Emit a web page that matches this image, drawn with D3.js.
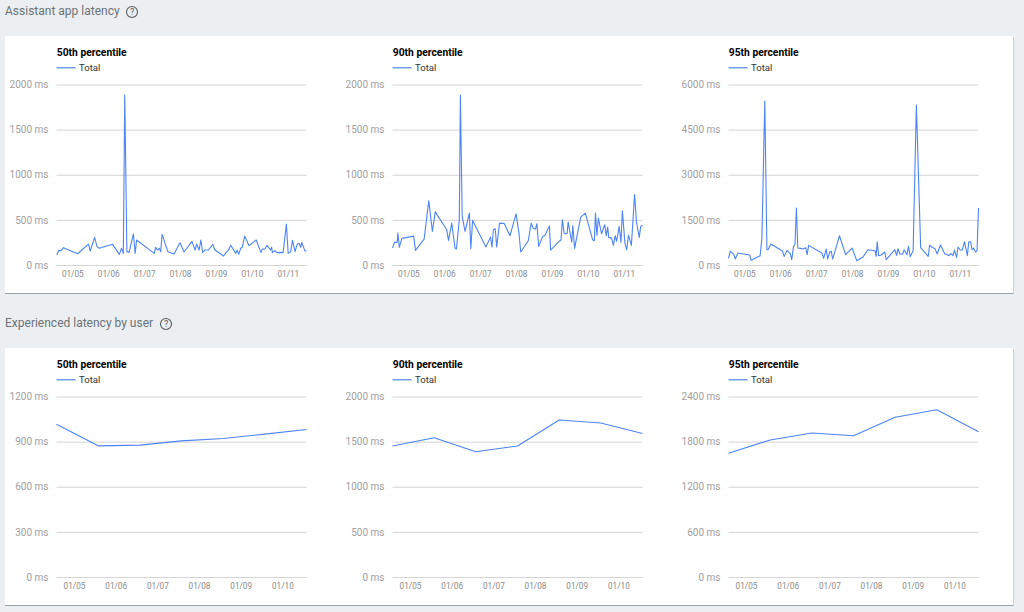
<!DOCTYPE html>
<html><head><meta charset="utf-8">
<script src="https://cdn.jsdelivr.net/npm/d3@7"></script>
<style>html,body{margin:0;padding:0;background:#eceff1;overflow:hidden}svg{display:block}text{font-family:Roboto,sans-serif}</style>
</head><body><svg id="c" width="1024" height="612"></svg>
<script>
const sectionTitles = ["Assistant app latency", "Experienced latency by user"];
const panelTitles = ["50th percentile", "90th percentile", "95th percentile"];
const seriesName = "Total";

const days1 = [4.57,4.62,4.69,4.75,5.15,5.45,5.50,5.62,5.69,5.75,6.12,6.31,6.37,6.42,6.46,6.52,6.58,6.70,6.75,6.79,7.28,7.32,7.37,7.42,7.46,7.50,7.66,7.83,8.00,8.11,8.33,8.42,8.46,8.53,8.58,8.63,8.69,8.79,8.91,8.97,9.21,9.30,9.34,9.41,9.55,9.59,9.63,9.69,9.73,9.80,9.92,10.12,10.25,10.29,10.36,10.42,10.52,10.55,10.57,10.64,10.70,10.78,10.87,10.96,11.01,11.08,11.13,11.20,11.26,11.31,11.36,11.39,11.47,11.52];
const p50 = [111,159,159,192,125,232,155,306,203,185,229,118,185,129,1882,148,140,343,129,277,129,196,166,185,148,339,148,122,247,144,262,166,232,166,277,140,166,166,229,166,100,148,159,218,129,166,118,185,196,321,214,277,140,177,177,218,166,196,137,159,137,140,137,454,129,148,273,148,229,240,196,251,159,155];

const days2 = [4.56,4.62,4.69,4.71,4.75,4.82,5.15,5.20,5.44,5.57,5.67,5.75,6.07,6.12,6.21,6.30,6.34,6.42,6.45,6.50,6.58,6.70,6.74,6.79,7.16,7.29,7.33,7.37,7.42,7.46,7.54,7.67,7.83,8.00,8.08,8.13,8.34,8.42,8.48,8.54,8.58,8.63,8.74,8.80,8.93,8.96,9.22,9.25,9.29,9.34,9.42,9.45,9.55,9.58,9.63,9.80,9.93,10.13,10.18,10.21,10.25,10.29,10.38,10.47,10.51,10.55,10.58,10.66,10.71,10.76,10.80,10.87,10.92,10.96,11.03,11.08,11.13,11.21,11.30,11.35,11.43,11.47,11.52];
const p90 = [188,254,250,354,195,295,320,162,287,711,372,589,390,273,464,188,177,501,1882,538,372,575,180,494,199,309,199,390,401,199,464,460,324,567,354,144,269,464,405,398,457,206,317,328,431,166,269,276,501,346,346,475,254,438,184,530,575,280,269,575,331,519,346,446,324,420,306,298,217,324,261,427,250,600,243,169,331,217,781,482,306,427,442];

const days3 = [4.56,4.61,4.68,4.70,4.75,4.82,5.15,5.19,5.44,5.49,5.57,5.63,5.66,5.74,6.06,6.11,6.19,6.28,6.32,6.37,6.41,6.45,6.49,6.56,6.63,6.71,6.75,6.79,7.16,7.21,7.28,7.32,7.38,7.42,7.46,7.65,7.82,8.00,8.13,8.31,8.44,8.64,8.67,8.70,8.74,8.81,8.91,8.95,9.19,9.24,9.28,9.33,9.41,9.45,9.53,9.57,9.62,9.70,9.79,9.91,10.12,10.16,10.23,10.31,10.37,10.46,10.58,10.66,10.70,10.75,10.81,10.85,10.91,10.95,11.01,11.07,11.13,11.21,11.25,11.30,11.34,11.38,11.44,11.48,11.52];
const p95 = [221,464,376,376,199,398,332,155,309,895,5448,508,508,696,464,287,486,376,177,619,674,1890,564,553,530,575,343,652,398,221,530,199,442,453,199,972,343,564,144,276,508,475,287,774,309,332,431,177,508,320,541,365,365,508,343,619,287,464,5315,575,287,663,586,541,365,663,376,343,309,376,309,497,254,597,497,497,774,309,774,774,508,564,431,486,1890];

const userDays = [4.58,5.58,6.58,7.58,8.58,9.58,10.58];
const user50 = [1016,872,877,905,921,950,981];
const user90 = [1452,1543,1388,1452,1739,1706,1590];
const user95 = [1645,1822,1915,1879,2123,2224,1932];

const topMaxes = [2000,2000,6000];
const bottomMaxes = [1200,2000,2400];
const topTickDays = [5,6,7,8,9,10,11];
const bottomTickDays = [5,6,7,8,9,10];

const svg = d3.select("#c");
const BLUE = "#4d84f4", GRID = "#d4d4d4";
const toDate = d => new Date(Date.UTC(2018,0,1) + (d-1)*864e5);
const fmt = d3.utcFormat("%m/%d");

function heading(text, y, iconX){
  svg.append("text").attr("x",5).attr("y",y+3.5).attr("font-size",12).attr("fill","#6b7378").text(text);
  const g = svg.append("g").attr("transform",`translate(${iconX},${y+1})`);
  g.append("circle").attr("r",5.5).attr("fill","none").attr("stroke","#55595c").attr("stroke-width",1.1);
  g.append("text").attr("text-anchor","middle").attr("y",3.2).attr("font-size",9).attr("fill","#55595c").text("?");
}
function card(y,h){
  svg.append("rect").attr("x",5).attr("y",y+1).attr("width",1009).attr("height",h).attr("fill","#d0d2d3");
  svg.append("rect").attr("x",5).attr("y",y+1).attr("width",1008).attr("height",h).attr("fill","#a0a0a0");
  svg.append("rect").attr("x",5).attr("y",y).attr("width",1008).attr("height",h).attr("fill","#fff");
}
function panel(x0, top, title, days, vals, maxV, tickDays, xDomain){
  const yBase = top+180.5, yTop = top;
  const x = d3.scaleUtc().domain(xDomain.map(toDate)).range([x0, x0+250]);
  const y = d3.scaleLinear().domain([0,maxV]).range([yBase,yTop]);
  svg.append("text").attr("x",x0+0.3).attr("y",top-29).attr("font-size",10.3).attr("font-weight",700).attr("fill","#000").text(title);
  svg.append("line").attr("x1",x0).attr("x2",x0+19).attr("y1",top-16.7).attr("y2",top-16.7).attr("stroke",BLUE).attr("stroke-width",1.2);
  svg.append("text").attr("x",x0+22.5).attr("y",top-13.5).attr("font-size",9.5).attr("fill","#333").text(seriesName);

  const yAxis = d3.axisLeft(y).tickValues(d3.range(0,5).map(i=>maxV*i/4)).tickFormat(d=>d+" ms").tickSize(-250).tickPadding(8);
  const gy = svg.append("g").attr("transform",`translate(${x0},0)`).call(yAxis);
  gy.select(".domain").remove();
  gy.selectAll(".tick line").attr("stroke",GRID).attr("stroke-width",1);
  gy.selectAll(".tick text").attr("font-size",10).attr("fill","#a0a0a0").attr("font-family","Roboto,sans-serif");

  const xAxis = d3.axisBottom(x).tickValues(tickDays.map(toDate)).tickFormat(fmt).tickSize(0).tickPadding(6.5);
  const gx = svg.append("g").attr("transform",`translate(0,${yBase})`).call(xAxis);
  gx.select(".domain").remove();
  gx.selectAll(".tick text").attr("font-size",8.2).attr("fill","#8a8a8a").attr("font-family","Roboto,sans-serif");

  const line = d3.line().x(d=>x(toDate(d[0]))).y(d=>y(d[1]));
  svg.append("path").attr("d",line(days.map((d,i)=>[d,vals[i]]))).attr("fill","none").attr("stroke",BLUE).attr("stroke-width",1.1).attr("stroke-linejoin","round");
}

heading(sectionTitles[0],11,132);
heading(sectionTitles[1],323,166);
card(36,257);
card(348,257);
const xs = [56.5,392.5,728.5];
const topData = [[days1,p50],[days2,p90],[days3,p95]];
const botData = [user50,user90,user95];
xs.forEach((x0,i)=>{
  panel(x0,84.5,panelTitles[i],topData[i][0],topData[i][1],topMaxes[i],topTickDays,[4.56,11.52]);
  panel(x0,396.5,panelTitles[i],userDays,botData[i],bottomMaxes[i],bottomTickDays,[4.58,10.58]);
});
</script></body></html>
